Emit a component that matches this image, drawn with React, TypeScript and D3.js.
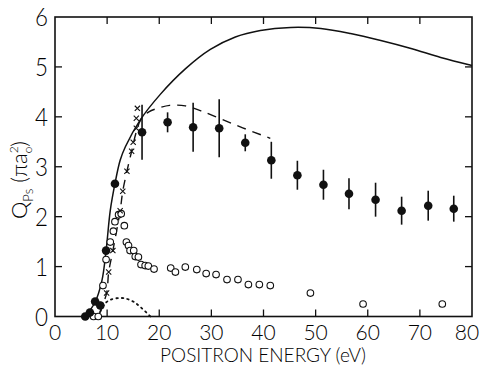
import React, { useRef, useEffect } from "react";
import * as d3 from "d3";

// positronium formation cross section
const solidE = [5.8, 7.7, 9.0, 9.8, 10.6, 11.5, 12.5, 13.5, 16.3, 20.2, 25, 29.8, 34.6, 39.4, 45.2, 51, 56.7, 62.5, 68.3, 74, 80];
const solidQ = [0, 0.29, 0.72, 1.32, 2.12, 2.66, 3.13, 3.4, 3.93, 4.45, 4.96, 5.35, 5.6, 5.73, 5.79, 5.77, 5.67, 5.53, 5.37, 5.19, 5.03];

const dashE = [8.5, 9.9, 10.3, 11.1, 12.5, 13.0, 13.8, 14.7, 15.6, 16.5, 18, 20, 22, 25, 28, 32, 36, 41.3];
const dashQ = [0.05, 0.47, 0.89, 1.32, 2.12, 2.51, 2.91, 3.31, 3.7, 3.95, 4.1, 4.18, 4.23, 4.22, 4.12, 3.95, 3.78, 3.57];

const dotE = [8.7, 9.5, 10.5, 12.2, 13.5, 15, 16.5, 18.3];
const dotQ = [0.1, 0.25, 0.33, 0.37, 0.36, 0.3, 0.18, 0.0];

const crossE = [9.9, 10.3, 11.1, 12.5, 13.0, 13.8, 14.7, 15.0, 15.6, 15.6, 15.8];
const crossQ = [0.47, 0.89, 1.32, 2.12, 2.51, 2.91, 3.31, 3.49, 3.77, 3.97, 4.17];

const fullE = [5.8, 6.7, 7.7, 8.7, 9.8, 11.5, 16.7, 21.6, 26.5, 31.5, 36.5, 41.5, 46.5, 51.5, 56.4, 61.5, 66.5, 71.6, 76.5];
const fullQ = [0, 0.08, 0.3, 0.22, 1.32, 2.66, 3.69, 3.89, 3.79, 3.77, 3.48, 3.13, 2.83, 2.64, 2.46, 2.34, 2.12, 2.22, 2.16];
const fullErr = [0, 0, 0, 0, 0, 0, 0.55, 0.2, 0.49, 0.58, 0.17, 0.37, 0.29, 0.3, 0.31, 0.34, 0.28, 0.3, 0.26];

const openE = [7.4, 8.3, 8.7, 9.2, 9.8, 10.6, 11.2, 11.5, 12.2, 12.7, 13.3, 13.7, 14.1, 14.4, 15.1, 15.4, 16.0, 16.5, 17.3, 17.9, 19.0, 22.2, 23.1, 25.0, 27.2, 29.0, 30.9, 33.0, 35.1, 37.1, 39.2, 41.3, 49.0, 59.1, 74.3];
const openQ = [0, 0, 0.22, 0.62, 1.14, 1.49, 1.71, 1.9, 2.04, 2.06, 1.82, 1.49, 1.42, 1.32, 1.32, 1.2, 1.19, 1.04, 1.02, 1.01, 0.95, 0.97, 0.89, 0.99, 0.94, 0.86, 0.84, 0.74, 0.74, 0.64, 0.64, 0.62, 0.47, 0.25, 0.25];

const xTicks = [0, 10, 20, 30, 40, 50, 60, 70, 80];
const yTicks = [0, 1, 2, 3, 4, 5, 6];

const W = 481;
const H = 368;
const FONT = "Lato, 'DejaVu Sans', sans-serif";

const App = () => {
  const ref = useRef<SVGSVGElement>(null);

  useEffect(() => {
    const svg = d3.select(ref.current);
    svg.selectAll("*").remove();

    const x = d3.scaleLinear().domain([0, 80]).range([55, 472]);
    const y = d3.scaleLinear().domain([0, 6]).range([316.5, 17]);

    // frame
    svg.append("rect")
      .attr("x", x(0)).attr("y", y(6))
      .attr("width", x(80) - x(0)).attr("height", y(0) - y(6))
      .attr("fill", "none").attr("stroke", "#111").attr("stroke-width", 1.6);

    // inward ticks
    xTicks.slice(1, -1).forEach(t => {
      svg.append("line").attr("x1", x(t)).attr("x2", x(t)).attr("y1", y(0)).attr("y2", y(0) - 7)
        .attr("stroke", "#111").attr("stroke-width", 1.3);
      svg.append("line").attr("x1", x(t)).attr("x2", x(t)).attr("y1", y(6)).attr("y2", y(6) + 7)
        .attr("stroke", "#111").attr("stroke-width", 1.3);
    });
    yTicks.slice(1, -1).forEach(t => {
      svg.append("line").attr("x1", x(0)).attr("x2", x(0) + 7).attr("y1", y(t)).attr("y2", y(t))
        .attr("stroke", "#111").attr("stroke-width", 1.3);
      svg.append("line").attr("x1", x(80)).attr("x2", x(80) - 7).attr("y1", y(t)).attr("y2", y(t))
        .attr("stroke", "#111").attr("stroke-width", 1.3);
    });

    const txt = svg.append("g").attr("opacity", 0.99).attr("fill", "#000")
      .attr("font-family", FONT).attr("font-weight", 300);

    // tick labels
    xTicks.forEach(t => {
      txt.append("text").attr("x", t === 80 ? x(t) - 5 : x(t)).attr("y", 340)
        .attr("text-anchor", "middle").attr("font-size", 21)
        .text(t);
    });
    yTicks.forEach(t => {
      txt.append("text").attr("x", 48).attr("y", y(t) + 9)
        .attr("text-anchor", "end").attr("font-size", 25)
        .attr("textLength", 13).attr("lengthAdjust", "spacingAndGlyphs")
        .text(t);
    });

    // axis titles
    txt.append("text").attr("x", 263).attr("y", 362)
      .attr("text-anchor", "middle").attr("font-size", 19)
      .text("POSITRON ENERGY (eV)");

    const yt = txt.append("text")
      .attr("transform", "translate(27,180) rotate(-90)")
      .attr("text-anchor", "middle").attr("font-size", 22);
    yt.append("tspan").text("Q");
    yt.append("tspan").attr("font-size", 13).attr("dy", 6).text("Ps");
    yt.append("tspan").attr("dy", -6).attr("dx", 6).text("(πa");
    yt.append("tspan").attr("font-size", 12).attr("dy", -9).text("2");
    yt.append("tspan").attr("font-size", 12).attr("dy", 14).attr("dx", -7).text("o");
    yt.append("tspan").attr("dy", -5).text(")");

    const line = d3.line<[number, number]>()
      .x(d => x(d[0])).y(d => y(d[1]))
      .curve(d3.curveCatmullRom.alpha(0.5));

    svg.append("path")
      .attr("d", line(solidE.map((e, i) => [e, solidQ[i]]) as [number, number][]))
      .attr("fill", "none").attr("stroke", "#111").attr("stroke-width", 1.5);

    svg.append("path")
      .attr("d", line(dashE.map((e, i) => [e, dashQ[i]]) as [number, number][]))
      .attr("fill", "none").attr("stroke", "#111").attr("stroke-width", 1.4)
      .attr("stroke-dasharray", "9,7");

    svg.append("path")
      .attr("d", line(dotE.map((e, i) => [e, dotQ[i]]) as [number, number][]))
      .attr("fill", "none").attr("stroke", "#111").attr("stroke-width", 1.8)
      .attr("stroke-dasharray", "1.5,4").attr("stroke-linecap", "round");

    // error bars
    fullE.forEach((e, i) => {
      if (fullErr[i] > 0) {
        svg.append("line").attr("x1", x(e)).attr("x2", x(e))
          .attr("y1", y(fullQ[i] - fullErr[i])).attr("y2", y(fullQ[i] + fullErr[i]))
          .attr("stroke", "#111").attr("stroke-width", 1.6);
      }
    });

    // open circles
    openE.forEach((e, i) => {
      svg.append("circle").attr("cx", x(e)).attr("cy", y(openQ[i])).attr("r", 3.3)
        .attr("fill", "white").attr("stroke", "#111").attr("stroke-width", 1.1);
    });

    // crosses
    crossE.forEach((e, i) => {
      const cx = x(e), cy = y(crossQ[i]), s = 2.6;
      svg.append("path")
        .attr("d", `M${cx - s},${cy - s}L${cx + s},${cy + s}M${cx - s},${cy + s}L${cx + s},${cy - s}`)
        .attr("stroke", "#111").attr("stroke-width", 1.1);
    });

    // filled circles
    fullE.forEach((e, i) => {
      svg.append("circle").attr("cx", x(e)).attr("cy", y(fullQ[i])).attr("r", 4.3)
        .attr("fill", "#111");
    });
  }, []);

  return (
    <svg ref={ref} width={W} height={H}
      style={{ position: "absolute", left: 0, top: 0, background: "white" }} />
  );
};

export default App;
